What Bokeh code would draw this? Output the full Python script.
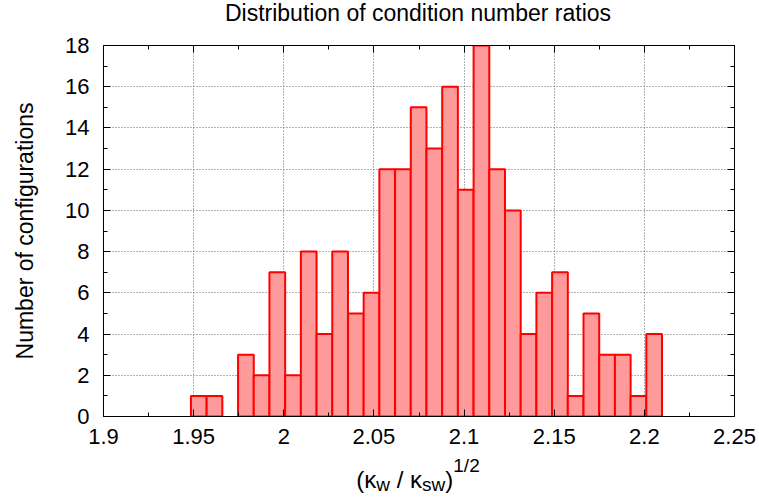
from bokeh.plotting import figure
from bokeh.models import Range1d, FixedTicker, LinearAxis, ColumnDataSource, Div
from bokeh.layouts import column
from bokeh.embed import file_html
from bokeh.resources import INLINE

# ---- data ----
counts = [1, 1, 0, 3, 2, 7, 2, 8, 4, 8, 5, 6, 12, 12, 15, 13, 16, 11, 18, 12,
          10, 4, 6, 7, 1, 5, 3, 3, 1, 4]
bin_start = 1.9485
bin_width = 0.00871
x_ticks = [1.9, 1.95, 2.0, 2.05, 2.1, 2.15, 2.2, 2.25]
x_tick_labels = ["1.9", "1.95", "2", "2.05", "2.1", "2.15", "2.2", "2.25"]
y_ticks = [0, 2, 4, 6, 8, 10, 12, 14, 16, 18]
x_minor = [1.925, 1.975, 2.025, 2.075, 2.125, 2.175, 2.225]
y_minor = [1, 3, 5, 7, 9, 11, 13, 15, 17]
title_text = "Distribution of condition number ratios"
y_label = "Number of configurations"

FONT = "Liberation Sans"

lefts, rights, tops = [], [], []
for i, c in enumerate(counts):
    if c > 0:
        lefts.append(bin_start + i * bin_width)
        rights.append(bin_start + (i + 1) * bin_width)
        tops.append(c)
src = ColumnDataSource(dict(left=lefts, right=rights, top=tops, bottom=[0] * len(tops)))

TITLE_H = 26
XLABEL_H = 43
p = figure(width=759, height=499 - TITLE_H - XLABEL_H, output_backend="svg", toolbar_location=None,
           x_range=Range1d(1.9, 2.25), y_range=Range1d(0, 18),
           min_border_left=103, min_border_right=25, min_border_top=19, min_border_bottom=40)

p.quad(left="left", right="right", top="top", bottom="bottom", source=src,
       fill_color="#ff9a9a", line_color="#ff0000", line_width=2)

xt = FixedTicker(ticks=x_ticks, minor_ticks=x_minor)
yt = FixedTicker(ticks=y_ticks, minor_ticks=y_minor)
overrides = {t: l for t, l in zip(x_ticks, x_tick_labels)}

def style_axis(ax, show_labels):
    ax.axis_line_color = "black"
    ax.axis_line_width = 1
    ax.major_tick_in = 7
    ax.major_tick_out = 0
    ax.minor_tick_in = 4
    ax.minor_tick_out = 0
    ax.major_tick_line_color = "black"
    ax.minor_tick_line_color = "black"
    ax.major_label_text_font = FONT
    if show_labels:
        ax.major_label_text_font_size = "22px"
        ax.major_label_text_color = "black"
    else:
        ax.major_label_text_font_size = "1px"
        ax.major_label_text_color = None
        ax.major_label_standoff = 0

p.xaxis.ticker = xt
p.xaxis.major_label_overrides = overrides
p.yaxis.ticker = yt
style_axis(p.xaxis[0], True)
style_axis(p.yaxis[0], True)
p.xaxis.major_label_standoff = 12
p.yaxis.major_label_standoff = 14

p.yaxis.axis_label = y_label
p.yaxis.axis_label_text_font = FONT
p.yaxis.axis_label_text_font_size = "23px"
p.yaxis.axis_label_text_font_style = "normal"
p.yaxis.axis_label_text_color = "black"
p.yaxis.axis_label_standoff = 24

top_ax = LinearAxis(ticker=xt)
style_axis(top_ax, False)
p.add_layout(top_ax, "above")
right_ax = LinearAxis(ticker=yt)
style_axis(right_ax, False)
p.add_layout(right_ax, "right")

p.xgrid.ticker = xt
p.ygrid.ticker = yt
for g in (p.xgrid[0], p.ygrid[0]):
    g.grid_line_color = "#666666"
    g.grid_line_dash = "1 2"
    g.grid_line_width = 1

p.outline_line_color = "black"
p.background_fill_color = "white"
p.border_fill_color = "white"

# title (real text, centred over the plot frame)
title_html = (
    "<div style=\"box-sizing:border-box; width:759px; padding-left:77px; text-align:center; "
    "font-family:'Liberation Sans'; font-size:23px; line-height:26px; color:black; white-space:nowrap;\">"
    f"{title_text}</div>"
)
title = Div(text=title_html, width=759, height=TITLE_H, margin=0)

# x-axis label with real sub/superscripts: (κ_w / κ_sw)^(1/2)
sub = "font-size:19px; position:relative; top:3px;"
sup = "font-size:19px; position:relative; top:-16px;"
xlabel_html = (
    "<div style=\"box-sizing:border-box; width:759px; padding-top:12px; padding-left:77px; text-align:center; "
    "font-family:'Liberation Sans'; font-size:24px; line-height:24px; color:black; white-space:nowrap;\">"
    f"(κ<span style=\"{sub}\">w</span> / κ<span style=\"{sub}\">sw</span>)"
    f"<span style=\"{sup}\">1/2</span></div>"
)
xlabel = Div(text=xlabel_html, width=759, height=XLABEL_H, margin=0)

layout = column(title, p, xlabel, spacing=0)
open("out.html", "w").write(file_html(layout, INLINE))
